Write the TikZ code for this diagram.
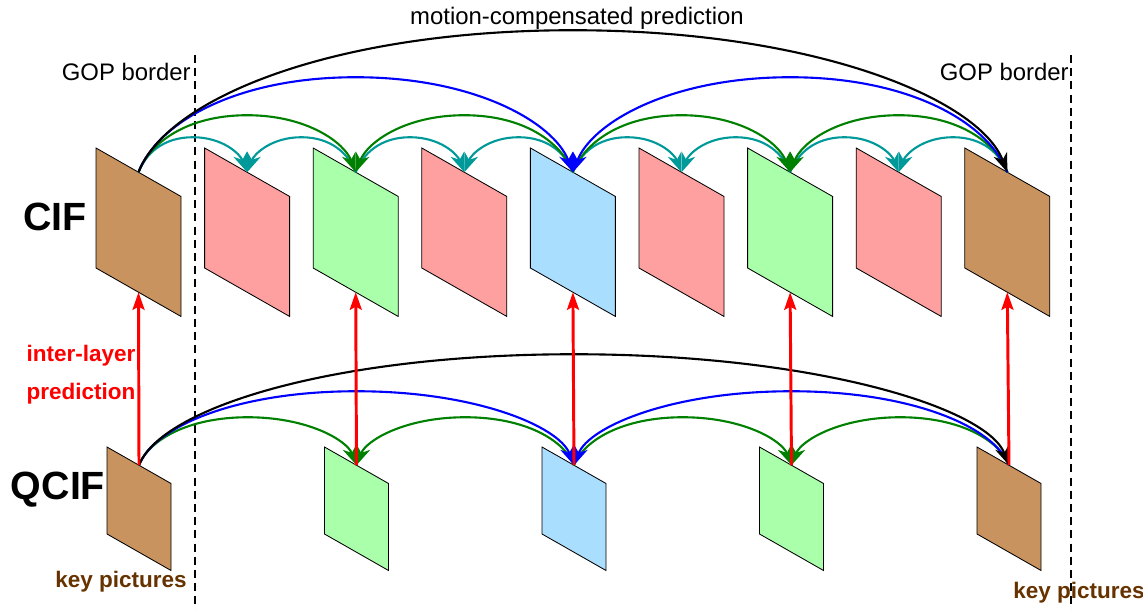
\documentclass[tikz,border=0pt]{standalone}
\usepackage{fontspec}
\setmainfont{Liberation Sans}
\usetikzlibrary{arrows.meta}
\usetikzlibrary{calc}
\definecolor{keybrown}{RGB}{200,147,94}
\definecolor{bpink}{RGB}{255,160,160}
\definecolor{bgreen}{RGB}{170,255,170}
\definecolor{bblue}{RGB}{170,222,255}
\definecolor{bteal}{RGB}{0,153,153}
\definecolor{dgreen}{RGB}{0,128,0}
\definecolor{txtbrown}{RGB}{102,51,0}
\tikzset{
	picbox/.style={draw=black, line width=0.6pt},
	mcline/.style={line width=1.5pt, -{Stealth[length=4.8mm,width=3.6mm,inset=1.5mm]}},
	illine/.style={red, line width=2.1pt, -{Stealth[length=4.4mm,width=3mm,inset=0.8mm]}},
	gopline/.style={line width=1.6pt, dash pattern=on 2mm off 1.3mm},
	lbl/.style={inner sep=0pt, font=\fontsize{17}{20}\selectfont},
	layername/.style={inner sep=0pt, font=\bfseries\fontsize{28}{30}\selectfont},
}
\newcommand{\picframe}[6] % name, x left, y top, width, height, colour (pixels)
{
	% draw picture
	\draw[picbox, fill=#6] (#2,#3) -- ++(#4,{0.57*#4}) -- ++(0,#5) -- ++(-#4,{-0.57*#4}) -- cycle;
	% middle of top and bottom edge
	\coordinate (#1t) at ({#2+#4/2},{#3+0.285*#4});
	\coordinate (#1b) at ({#2+#4/2},{#3+#5+0.285*#4});
}
\newcommand{\mcarc}[4] % from, to, height, colour
{
	\draw[mcline, #4] (#1t)
		.. controls ($(#1t)!#3*0.005cm!(#2t)+(0,-0.52*#3)$) and ($(#1t)!0.224!(#2t)+(0,-#3)$) .. ($(#1t)!0.5!(#2t)+(0,-#3)$)
		.. controls ($(#1t)!0.776!(#2t)+(0,-#3)$) and ($(#2t)!#3*0.005cm!(#1t)+(0,-0.52*#3)$) .. (#2t);
}

\begin{document}
\begin{tikzpicture}[x=0.025cm, y=-0.025cm]
	\useasboundingbox (0,0) rectangle (1143,610);
	% CIF layer
	\picframe{c0}{96}{148}{85}{120}{keybrown};
	\picframe{c1}{204.6}{148}{85}{120}{bpink};
	\picframe{c2}{313.2}{148}{85}{120}{bgreen};
	\picframe{c3}{421.8}{148}{85}{120}{bpink};
	\picframe{c4}{530.4}{148}{85}{120}{bblue};
	\picframe{c5}{639}{148}{85}{120}{bpink};
	\picframe{c6}{747.6}{148}{85}{120}{bgreen};
	\picframe{c7}{856.2}{148}{85}{120}{bpink};
	\picframe{c8}{964.8}{148}{85}{120}{keybrown};
	
	% QCIF layer
	\picframe{q0}{107}{447}{64}{87}{keybrown};
	\picframe{q1}{324.5}{447}{64}{87}{bgreen};
	\picframe{q2}{542}{447}{64}{87}{bblue};
	\picframe{q3}{759.5}{447}{64}{87}{bgreen};
	\picframe{q4}{977}{447}{64}{87}{keybrown};
	
	% GOP borders
	\draw[gopline] (195,55) -- (195,610);
	\draw[gopline] (1071,55) -- (1071,610);
	
	\mcarc{c0}{c1}{35}{bteal};
	\mcarc{c2}{c1}{35}{bteal};
	\mcarc{c2}{c3}{35}{bteal};
	\mcarc{c4}{c3}{35}{bteal};
	\mcarc{c4}{c5}{35}{bteal};
	\mcarc{c6}{c5}{35}{bteal};
	\mcarc{c6}{c7}{35}{bteal};
	\mcarc{c8}{c7}{35}{bteal};
	\mcarc{c0}{c2}{57}{dgreen};
	\mcarc{c4}{c2}{57}{dgreen};
	\mcarc{c4}{c6}{57}{dgreen};
	\mcarc{c8}{c6}{57}{dgreen};
	\mcarc{c0}{c4}{95}{blue};
	\mcarc{c8}{c4}{95}{blue};
	\mcarc{c0}{c8}{142}{black};
	
	\mcarc{q0}{q1}{48}{dgreen};
	\mcarc{q2}{q1}{48}{dgreen};
	\mcarc{q2}{q3}{48}{dgreen};
	\mcarc{q4}{q3}{48}{dgreen};
	\mcarc{q0}{q2}{74}{blue};
	\mcarc{q4}{q2}{74}{blue};
	\mcarc{q0}{q4}{111}{black};
	
	% inter-layer
	\draw[illine] (q0t) -- (c0b);
	\draw[illine] (q1t) -- (c2b);
	\draw[illine] (q2t) -- (c4b);
	\draw[illine] (q3t) -- (c6b);
	\draw[illine] (q4t) -- (c8b);
	
	% labels
	\node[lbl] (mcp) at (577,18) {motion-compensated prediction};
	\node[lbl, anchor=east] (gopl) at (191,72) {GOP border};
	\node[lbl, anchor=east] (gopr) at (1069,72) {GOP border};
	\node[layername] (cif) at (55,217) {CIF};
	\node[layername] (qcif) at (58,490) {QCIF};
	\node[lbl, red, font=\bfseries\fontsize{16}{27}\selectfont, align=center] (ilp) at (81,375) {inter-layer\\prediction};
	\node[lbl, txtbrown, font=\bfseries\fontsize{16}{20}\selectfont] (keyl) at (121,582) {key pictures};
	\node[lbl, txtbrown, font=\bfseries\fontsize{16}{20}\selectfont, anchor=west] (keyr) at (1013,593) {key pictures};
\end{tikzpicture}
\end{document}
